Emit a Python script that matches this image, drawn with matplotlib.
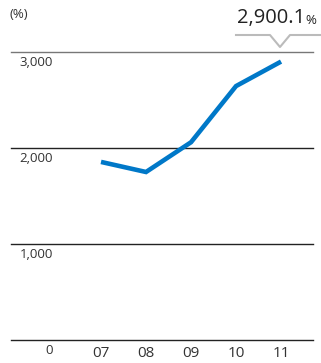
import matplotlib
matplotlib.use("Agg")
import matplotlib.pyplot as plt

# データ
years = ["07", "08", "09", "10", "11"]
values = [1855, 1750, 2060, 2645, 2900.1]
y_ticks = [0, 1000, 2000, 3000]
y_labels = ["0", "1,000", "2,000", "3,000"]

plt.rcParams['font.family'] = ['Open Sans', 'DejaVu Sans']
txt = '#333333'
blue = '#0078c8'

W, H = 321, 363
fig = plt.figure(figsize=(W / 100, H / 100), dpi=100)
ax = fig.add_axes([11 / W, (H - 340) / H, 302 / W, 288 / H])

x = list(range(len(years)))
ax.plot(x, values, color=blue, lw=3.3, solid_capstyle='butt', solid_joinstyle='miter', zorder=3)

ax.set_xlim(-2.0, 4.71)
ax.set_ylim(0, 3000)

# グリッド線
for v in y_ticks:
    c = '#777777' if v == 3000 else '#222222'
    ax.axhline(v, color=c, lw=1.0, zorder=1, clip_on=False)

# 目盛りラベル（軸内、線の下）
for v, lab in zip(y_ticks, y_labels):
    ax.annotate(lab, (53 / W, v), xycoords=('figure fraction', 'data'),
                xytext=(0, -3), textcoords='offset points',
                ha='right', va='top', fontsize=9.5, color=txt, annotation_clip=False)

ax.set_xticks(x)
ax.set_xticklabels(years, fontsize=11, color=txt)
ax.tick_params(axis='x', length=0, pad=4)
ax.set_yticks([])
for s in ax.spines.values():
    s.set_visible(False)

fig.text(10 / W, 1 - 14 / H, "(%)", fontsize=9.5, color=txt, va='center', ha='left')

# 最終値の吹き出し
fig.text(305 / W, 1 - 18 / H, "2,900.1", fontsize=14.5, color='#222222', ha='right', va='center')
fig.text(305 / W, 1 - 20 / H, "%", fontsize=9.5, color='#222222', ha='left', va='center')
bx = [236, 270, 280, 290, 321]
by = [35, 35, 47, 35, 35]
fig.add_artist(plt.Line2D([p / W for p in bx], [1 - p / H for p in by],
                          color='#bbbbbb', lw=1.5, transform=fig.transFigure))

fig.savefig("out.png", dpi=100)
